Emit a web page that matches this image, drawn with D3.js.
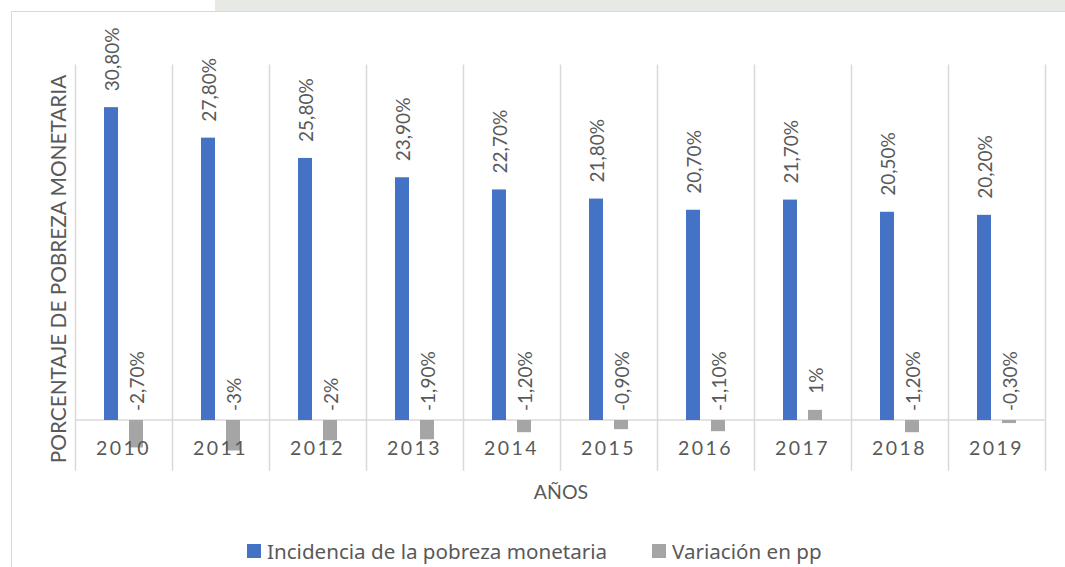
<!DOCTYPE html>
<html>
<head>
<meta charset="utf-8">
<script src="https://cdn.jsdelivr.net/npm/d3@7"></script>
<style>
  body { margin: 0; background: #fff; }
  text { font-family: Lato, "Noto Sans", sans-serif; fill: #595959; }
  text.legend { font-family: "Noto Sans", Lato, sans-serif; }
</style>
</head>
<body>
<div id="chart"></div>
<script>
const years = ["2010", "2011", "2012", "2013", "2014", "2015", "2016", "2017", "2018", "2019"];
const incidencia = [30.8, 27.8, 25.8, 23.9, 22.7, 21.8, 20.7, 21.7, 20.5, 20.2];
const variacion = [-2.7, -3.0, -2.0, -1.9, -1.2, -0.9, -1.1, 1.0, -1.2, -0.3];
const variacionLabels = ["-2,70%", "-3%", "-2%", "-1,90%", "-1,20%", "-0,90%", "-1,10%", "1%", "-1,20%", "-0,30%"];
const seriesNames = ["Incidencia de la pobreza monetaria", "Variación en pp"];
const colors = ["#4472C4", "#A5A5A5"];

const W = 1065, H = 567;

const svg = d3.select("#chart")
    .append("svg")
    .attr("width", W)
    .attr("height", H);

// faint strip at the top (watermark of the page behind)
svg.append("rect")
    .attr("x", 215).attr("y", 0)
    .attr("width", W - 215).attr("height", 11)
    .attr("fill", "#e6e9e4");

// chart frame
svg.append("rect")
    .attr("x", 11.5).attr("y", 11.5)
    .attr("width", W + 10).attr("height", H + 10)
    .attr("fill", "none")
    .attr("stroke", "#d9d9d9");

const x = d3.scaleBand()
    .domain(years)
    .range([75, 1045]);

const y = d3.scaleLinear()
    .domain([-5, 35])
    .range([470.8, 64.5]);

// position of the two bars inside a year
const sub = d3.scaleBand()
    .domain([0, 1])
    .range([29, 68])
    .paddingInner(0.44);

// category separators
const bounds = years.map(d => x(d)).concat([x.range()[1]]);
svg.selectAll("line.sep")
    .data(bounds)
    .join("line")
    .attr("class", "sep")
    .attr("x1", d => Math.round(d) + 0.5)
    .attr("x2", d => Math.round(d) + 0.5)
    .attr("y1", y(35))
    .attr("y2", y(-5))
    .attr("stroke", "#d9d9d9")
    .attr("stroke-width", 1.5);

// zero line
svg.append("line")
    .attr("x1", x.range()[0]).attr("x2", x.range()[1])
    .attr("y1", y(0)).attr("y2", y(0))
    .attr("stroke", "#d9d9d9")
    .attr("stroke-width", 1.5);

const series = [incidencia, variacion];
series.forEach((vals, s) => {
    svg.selectAll("rect.s" + s)
        .data(vals)
        .join("rect")
        .attr("class", "s" + s)
        .attr("x", (d, i) => x(years[i]) + sub(s))
        .attr("width", sub.bandwidth())
        .attr("y", d => y(Math.max(0, d)))
        .attr("height", d => Math.abs(y(d) - y(0)))
        .attr("fill", colors[s]);
});

// value labels
function fmt(v) {
    return v.toFixed(2).replace(".", ",") + "%";
}
svg.selectAll("text.lab0")
    .data(incidencia)
    .join("text")
    .attr("class", "lab0")
    .attr("transform", (d, i) => `translate(${x(years[i]) + sub(0) + sub.bandwidth() / 2},${y(d) - 16}) rotate(-90)`)
    .attr("dominant-baseline", "central")
    .attr("font-size", 19)
    .text(d => fmt(d));

svg.selectAll("text.lab1")
    .data(variacion)
    .join("text")
    .attr("class", "lab1")
    .attr("transform", (d, i) => `translate(${x(years[i]) + sub(1) + sub.bandwidth() / 2},${d > 0 ? y(d) - 16 : y(0) - 9}) rotate(-90)`)
    .attr("dominant-baseline", "central")
    .attr("font-size", 19)
    .text((d, i) => variacionLabels[i]);

// year labels
svg.selectAll("text.year")
    .data(years)
    .join("text")
    .attr("class", "year")
    .attr("x", d => x(d) + x.bandwidth() / 2)
    .attr("y", 455)
    .attr("text-anchor", "middle")
    .attr("font-size", 19.5)
    .attr("letter-spacing", 2.5)
    .text(d => d);

// axis titles
svg.append("text")
    .attr("x", 561)
    .attr("y", 499)
    .attr("text-anchor", "middle")
    .attr("font-size", 19.5)
    .text("AÑOS");

svg.append("text")
    .attr("transform", `translate(66,269) rotate(-90)`)
    .attr("text-anchor", "middle")
    .attr("font-size", 20.8)
    .text("PORCENTAJE DE POBREZA MONETARIA");

// legend
const legendX = [247, 652];
seriesNames.forEach((name, i) => {
    svg.append("rect")
        .attr("x", legendX[i]).attr("y", 544)
        .attr("width", 14).attr("height", 14)
        .attr("fill", colors[i]);
    svg.append("text")
        .attr("class", "legend")
        .attr("x", legendX[i] + 20)
        .attr("y", 559)
        .attr("font-size", 20.6)
        .text(name);
});
</script>
</body>
</html>
